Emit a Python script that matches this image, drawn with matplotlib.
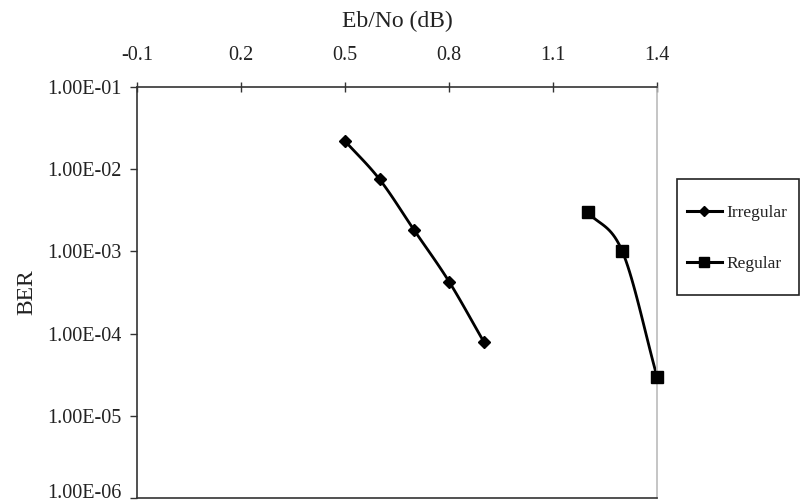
import numpy as np
import matplotlib
matplotlib.use("Agg")
import matplotlib.pyplot as plt
import matplotlib.transforms as mtransforms
from matplotlib.patches import Rectangle
from matplotlib.ticker import FixedLocator, FuncFormatter, NullLocator

plt.rcParams['font.family'] = ['Liberation Serif', 'DejaVu Serif']

# data
irr_x = [0.5, 0.6, 0.7, 0.8, 0.9]
irr_ber = [2.2e-2, 7.5e-3, 1.8e-3, 4.3e-4, 8.0e-5]
reg_x = [1.2, 1.3, 1.4]
reg_ber = [3.0e-3, 1.0e-3, 3.0e-5]

x_ticks = [-0.1, 0.2, 0.5, 0.8, 1.1, 1.4]
y_ticks = [1e-6, 1e-5, 1e-4, 1e-3, 1e-2, 1e-1]


def smooth(xs, ys, n=20):
    # catmull-rom through the points in (x, log y), like Excel's smoothed line
    px = np.array(xs, float)
    py = np.log10(np.array(ys, float))
    px = np.concatenate([[2 * px[0] - px[1]], px, [2 * px[-1] - px[-2]]])
    py = np.concatenate([[2 * py[0] - py[1]], py, [2 * py[-1] - py[-2]]])
    outx, outy = [], []
    for i in range(1, len(px) - 2):
        t = np.linspace(0, 1, n)
        for arr, out in ((px, outx), (py, outy)):
            p0, p1, p2, p3 = arr[i - 1], arr[i], arr[i + 1], arr[i + 2]
            out.extend(0.5 * (2 * p1 + (-p0 + p2) * t
                              + (2 * p0 - 5 * p1 + 4 * p2 - p3) * t ** 2
                              + (-p0 + 3 * p1 - 3 * p2 + p3) * t ** 3))
    return np.array(outx), 10 ** np.array(outy)


fig = plt.figure(figsize=(8.04, 5.04), dpi=100)
ax = fig.add_axes([137 / 804, 1 - 498 / 504, 520 / 804, 411 / 504])

sx, sy = smooth(irr_x, irr_ber)
ax.plot(sx, sy, color='black', lw=2, clip_on=False)
ax.plot(irr_x, irr_ber, ls='none', marker='D', ms=6.5, color='black', clip_on=False)
sx, sy = smooth(reg_x, reg_ber)
ax.plot(sx, sy, color='black', lw=2, clip_on=False)
ax.plot(reg_x, reg_ber, ls='none', marker='s', ms=8, color='black', clip_on=False, zorder=5)

# proxies for the legend
ax.plot([], [], color='black', lw=2.2, marker='D', ms=5.5, label='Irregular')
ax.plot([], [], color='black', lw=2.2, marker='s', ms=7.5, label='Regular')

ax.set_yscale('log')
ax.set_xlim(-0.1, 1.4)
ax.set_ylim(1e-6, 1e-1)
ax.xaxis.set_ticks_position('top')
ax.xaxis.set_label_position('top')
ax.xaxis.set_major_locator(FixedLocator(x_ticks))
ax.xaxis.set_major_formatter(FuncFormatter(lambda v, p: f'{v:g}'))
ax.yaxis.set_major_locator(FixedLocator(y_ticks))
ax.yaxis.set_minor_locator(NullLocator())
ax.yaxis.set_major_formatter(FuncFormatter(lambda v, p: f'{v:.2E}'))
ax.tick_params(axis='x', direction='inout', length=7, width=1, labelsize=14.5, pad=12,
               colors='#333333', labelcolor='#222222')
ax.tick_params(axis='y', direction='out', length=5, width=1, labelsize=14.5, pad=6,
               colors='#333333', labelcolor='#222222')

for s in ['left', 'top', 'bottom']:
    ax.spines[s].set_color('#333333')
    ax.spines[s].set_linewidth(1.2)
ax.spines['right'].set_color('#bbbbbb')
ax.spines['right'].set_linewidth(1.2)

ax.set_xlabel('Eb/No (dB)', fontsize=17, labelpad=14, color='#222222')
ax.set_ylabel('BER', fontsize=17, labelpad=7, color='#222222')

# nudge the bottom tick label up so it is not cut by the figure edge
fig.canvas.draw()
bottom_tick = ax.yaxis.get_major_ticks()[0]
bottom_tick.label1.set_transform(bottom_tick.label1.get_transform()
                                 + mtransforms.ScaledTranslation(0, 5 / 72, fig.dpi_scale_trans))

# legend box drawn as its own rectangle, entries placed inside it
fig.patches.append(Rectangle((677 / 804, 1 - 295 / 504), 122 / 804, 116 / 504,
                             transform=fig.transFigure, fill=False,
                             edgecolor='#222222', lw=1.2))
leg = fig.legend(loc='upper left', bbox_to_anchor=(687 / 804, 1 - 205 / 504),
                 fontsize=12.5, frameon=False, handlelength=2.0,
                 handletextpad=0.25, labelspacing=2.0, borderpad=0, borderaxespad=0)
for t in leg.get_texts():
    t.set_color('#222222')

fig.savefig('out.png', dpi=100)
